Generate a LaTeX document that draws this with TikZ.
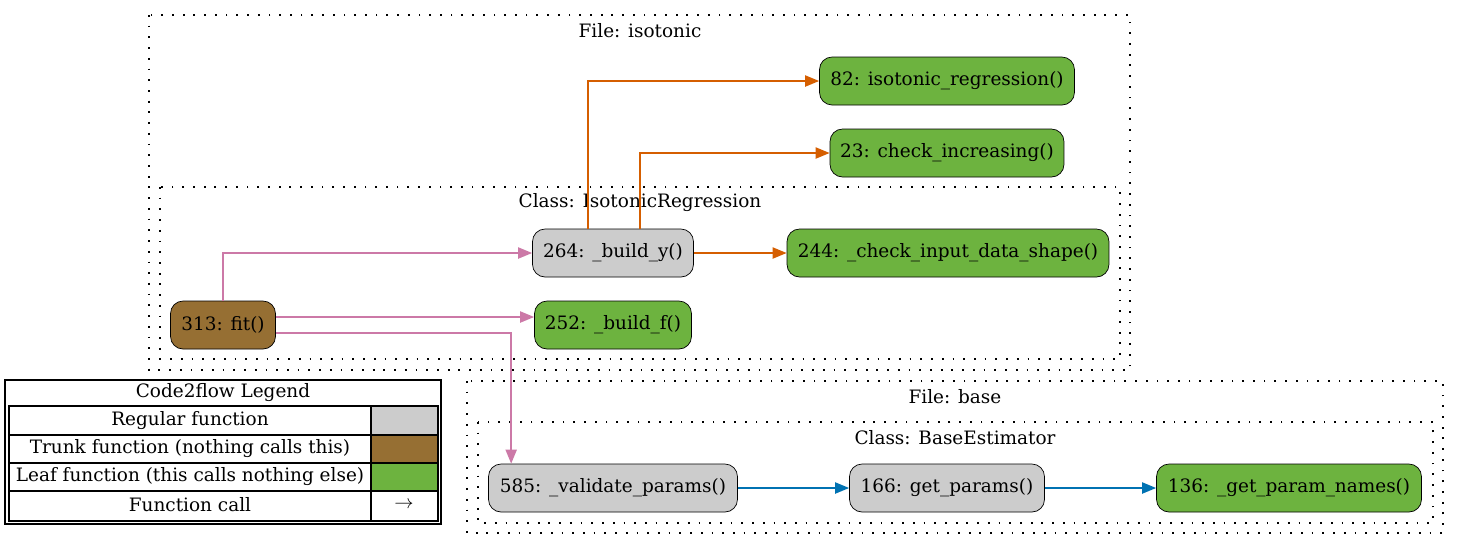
\documentclass[tikz,border=0pt]{standalone}
\usepackage{fontspec}
\setmainfont{DejaVu Serif}
\usetikzlibrary{arrows.meta}

\definecolor{regular}{HTML}{CCCCCC}
\definecolor{trunk}{HTML}{966F33}
\definecolor{leaf}{HTML}{6DB33F}
\definecolor{callpink}{HTML}{CC79A7}
\definecolor{callorange}{HTML}{D55E00}
\definecolor{callblue}{HTML}{0072B2}

\tikzset{
	func/.style={draw, rounded corners=0.25cm, minimum height=0.96cm, inner xsep=0.15cm, font=\fontsize{10.5}{12}\selectfont},
	call/.style={line width=1.1pt, -{Triangle[length=0.28cm, width=0.22cm]}},
	cluster/.style={draw, line width=0.7pt, dash pattern=on 1pt off 5.1pt},
	title/.style={font=\fontsize{10.5}{12}\selectfont, inner sep=0pt},
}

\begin{document}
\begin{tikzpicture}[x=0.02cm, y=-0.02cm]
	\useasboundingbox[fill=white] (0, 0) rectangle (1460, 549);
	% Clusters:
	\draw[cluster] (149, 15) rectangle (1130, 370);
	\node[title](T1) at (640, 31){File: isotonic};
	\draw[cluster] (160, 187) rectangle (1120, 359);
	\node[title](T2) at (640, 203){Class: IsotonicRegression};
	\draw[cluster] (467, 381) rectangle (1443, 533);
	\node[title](T3) at (955, 397){File: base};
	\draw[cluster] (478, 422) rectangle (1433, 523);
	\node[title](T4) at (955, 438){Class: BaseEstimator};
	% Functions:
	\node[func, fill=leaf, minimum width=5.1cm](N1) at (947, 81){82: isotonic\_regression()};
	\node[func, fill=leaf, minimum width=4.68cm](N2) at (947, 153){23: check\_increasing()};
	\node[func, fill=regular, minimum width=3.22cm](N3) at (613, 253){264: \_build\_y()};
	\node[func, fill=leaf, minimum width=6.44cm](N4) at (948, 253){244: \_check\_input\_data\_shape()};
	\node[func, fill=trunk, minimum width=2.1cm](N5) at (223, 325){313: fit()};
	\node[func, fill=leaf, minimum width=3.14cm](N6) at (613, 325){252: \_build\_f()};
	\node[func, fill=regular, minimum width=4.98cm](N7) at (613, 488){585: \_validate\_params()};
	\node[func, fill=regular, minimum width=3.9cm](N8) at (947, 488){166: get\_params()};
	\node[func, fill=leaf, minimum width=5.3cm](N9) at (1289, 488){136: \_get\_param\_names()};
	% Calls:
	\draw[call, callpink] (N5.north) |- (N3.west);
	\draw[call, callpink] ([yshift=0.16cm]N5.east) -- ([yshift=0.16cm]N6.west);
	\draw[call, callpink] ([yshift=-0.16cm]N5.east) -| ([xshift=0.46cm]N7.north west);
	\draw[call, callorange] ([xshift=-0.5cm]N3.north) |- (N1.west);
	\draw[call, callorange] ([xshift=0.54cm]N3.north) |- (N2.west);
	\draw[call, callorange] (N3.east) -- (N4.west);
	\draw[call, callblue] (N7.east) -- (N8.west);
	\draw[call, callblue] (N8.east) -- (N9.west);
	% Legend:
	\draw[line width=0.7pt] (5, 380) rectangle (441, 524);
	\node[title](L0) at (223, 393){Code2flow Legend};
	\fill[regular] (371, 406) rectangle (438, 435);
	\fill[trunk] (371, 435) rectangle (438, 463);
	\fill[leaf] (371, 463) rectangle (438, 491);
	\draw[line width=0.6pt] (9, 435) -- (438, 435) (9, 463) -- (438, 463) (9, 491) -- (438, 491) (371, 406) -- (371, 521);
	\draw[line width=1.6pt] (9, 406) rectangle (438, 521);
	\node[title](L1) at (190, 421){Regular function};
	\node[title](L2) at (190, 449){Trunk function (nothing calls this)};
	\node[title](L3) at (190, 477){Leaf function (this calls nothing else)};
	\node[title](L4) at (190, 505){Function call};
	\node[title](L5) at (404, 505){$\rightarrow$};
\end{tikzpicture}
\end{document}
